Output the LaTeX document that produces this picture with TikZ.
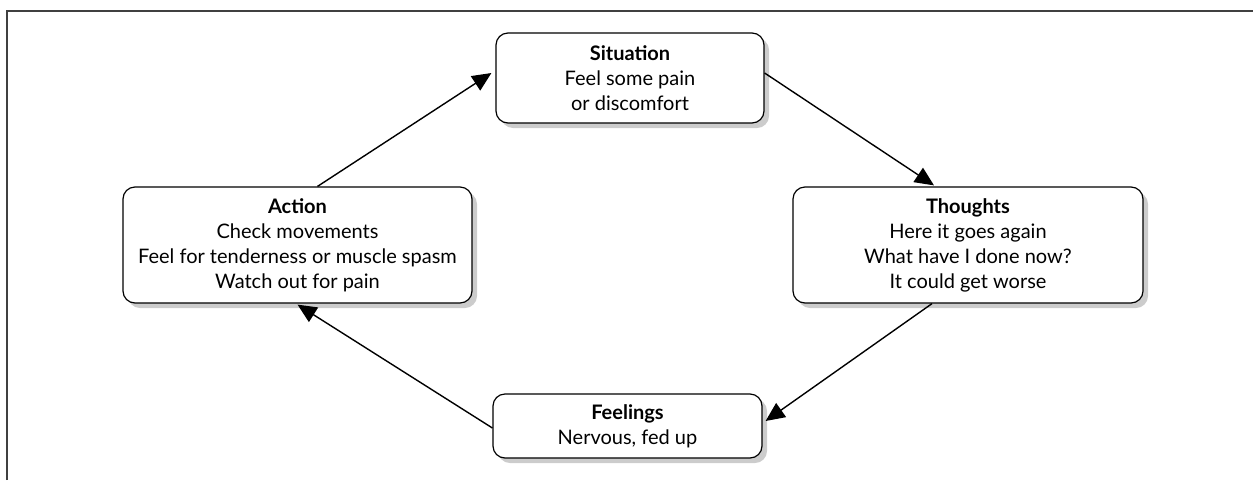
\documentclass[tikz,border=0pt]{standalone}
\usepackage{fontspec}
\setmainfont{Lato}
\usetikzlibrary{arrows.meta,shadows,calc}
\tikzset{
  stage/.style={draw=black, line width=1.2pt, rounded corners=12pt, fill=white,
    align=center, inner sep=0pt, font=\fontsize{20}{25}\selectfont,
    drop shadow={shadow xshift=5pt, shadow yshift=-5pt, fill=black!20, opacity=1}},
  flow/.style={line width=1.4pt, -{Triangle[length=19pt,width=17pt]}},
  frame/.style={line width=1.5pt, draw=black!75}
}
\begin{document}
\begin{tikzpicture}[x=1pt,y=-1pt]
  \useasboundingbox (0,0) rectangle (1253,480);
  % open frame: top and left edges only
  \draw[frame] (7,480) -- (7,11) -- (1253,11);

  \node[stage, minimum width=268pt, minimum height=90pt] (sit) at (630,78)
    {\textbf{Situation}\\Feel some pain\\or discomfort};
  \node[stage, minimum width=349pt, minimum height=116pt] (act) at (297.5,245)
    {\textbf{Action}\\Check movements\\Feel for tenderness or muscle spasm\\Watch out for pain};
  \node[stage, minimum width=350pt, minimum height=116pt] (tho) at (968,245)
    {\textbf{Thoughts}\\Here it goes again\\What have I done now?\\It could get worse};
  \node[stage, minimum width=269pt, minimum height=64pt] (fee) at (627.5,426)
    {\textbf{Feelings}\\Nervous, fed up};

  \draw[flow] ([xshift=20pt]act.north) -- ([yshift=5pt,xshift=-4pt]sit.west);
  \draw[flow] ([yshift=5pt]sit.east) -- ([xshift=-34pt,yshift=1pt]tho.north);
  \draw[flow] ([xshift=-36pt]tho.south) -- ([yshift=5pt,xshift=3pt]fee.east);
  \draw[flow] ([yshift=-2pt]fee.west) -- ([yshift=-1pt]act.south);
\end{tikzpicture}
\end{document}
